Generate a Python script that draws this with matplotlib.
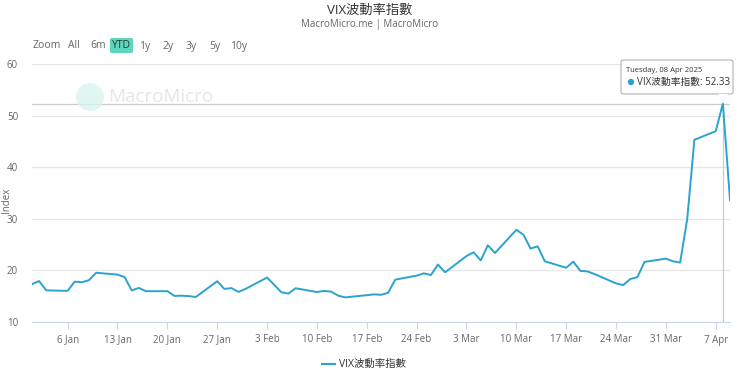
import matplotlib
matplotlib.use("Agg")
import matplotlib.pyplot as plt
import matplotlib.dates as mdates
from matplotlib.patches import FancyBboxPatch, Ellipse, Polygon

plt.rcParams['font.family'] = ['Open Sans', 'Noto Sans CJK TC', 'DejaVu Sans']

# VIX daily values (holidays carried forward)
dates = ["2025-01-01", "2025-01-02", "2025-01-03", "2025-01-06", "2025-01-07", "2025-01-08",
         "2025-01-09", "2025-01-10", "2025-01-13", "2025-01-14", "2025-01-15", "2025-01-16",
         "2025-01-17", "2025-01-20", "2025-01-21", "2025-01-22", "2025-01-23", "2025-01-24",
         "2025-01-27", "2025-01-28", "2025-01-29", "2025-01-30", "2025-01-31", "2025-02-03",
         "2025-02-04", "2025-02-05", "2025-02-06", "2025-02-07", "2025-02-10", "2025-02-11",
         "2025-02-12", "2025-02-13", "2025-02-14", "2025-02-17", "2025-02-18", "2025-02-19",
         "2025-02-20", "2025-02-21", "2025-02-24", "2025-02-25", "2025-02-26", "2025-02-27",
         "2025-02-28", "2025-03-03", "2025-03-04", "2025-03-05", "2025-03-06", "2025-03-07",
         "2025-03-10", "2025-03-11", "2025-03-12", "2025-03-13", "2025-03-14", "2025-03-17",
         "2025-03-18", "2025-03-19", "2025-03-20", "2025-03-21", "2025-03-24", "2025-03-25",
         "2025-03-26", "2025-03-27", "2025-03-28", "2025-03-31", "2025-04-01", "2025-04-02",
         "2025-04-03", "2025-04-04", "2025-04-07", "2025-04-08", "2025-04-09"]
vix = [17.35, 17.93, 16.13, 16.04, 17.82, 17.70,
       18.10, 19.54, 19.19, 18.71, 16.12, 16.60,
       15.97, 15.97, 15.06, 15.10, 15.02, 14.85,
       17.90, 16.41, 16.56, 15.84, 16.43, 18.62,
       17.21, 15.77, 15.50, 16.54, 15.81, 16.02,
       15.89, 15.10, 14.77, 15.20, 15.35, 15.27,
       15.66, 18.21, 18.98, 19.43, 19.10, 21.13,
       19.63, 22.78, 23.51, 21.93, 24.87, 23.37,
       27.86, 26.92, 24.23, 24.66, 21.77, 20.51,
       21.70, 19.90, 19.80, 19.28, 17.48, 17.15,
       18.33, 18.69, 21.65, 22.28, 21.77, 21.51,
       30.02, 45.31, 46.98, 52.33, 33.62]
y_ticks = [10, 20, 30, 40, 50, 60]
buttons = ["Zoom", "All", "6m", "YTD", "1y", "2y", "3y", "5y", "10y"]
series_name = "VIX波動率指數"
hover_date = "2025-04-08"
hover_label = "Tuesday, 08 Apr 2025"

x = mdates.datestr2num(dates)
line_color = "#2aa3cf"
W, H = 740, 375


def fx(px):
    return px / W


def fy(py):
    return 1 - py / H


def dot(cx, cy, r, **kw):
    # round dot in figure pixel units
    return Ellipse((fx(cx), fy(cy)), 2 * r / W, 2 * r / H, transform=fig.transFigure, **kw)


fig = plt.figure(figsize=(7.4, 3.75), dpi=100)
ax = fig.add_axes([fx(32), fy(322), (730 - 32) / W, (322 - 64) / H])

ax.plot(x, vix, color=line_color, lw=1.4, zorder=3, solid_joinstyle='round')
ax.set_xlim(mdates.datestr2num("2025-01-01"), mdates.datestr2num("2025-04-09"))
ax.set_ylim(10, 60)
ax.set_yticks(y_ticks)
ax.grid(axis='y', color='#e6e6e6', lw=0.9)
ax.set_axisbelow(True)
for s in ['top', 'right', 'left']:
    ax.spines[s].set_visible(False)
ax.spines['bottom'].set_color('#ccd6eb')
ax.xaxis.set_major_locator(mdates.WeekdayLocator(byweekday=mdates.MO))
ax.xaxis.set_major_formatter(mdates.DateFormatter('%-d %b'))
ax.tick_params(axis='x', colors='#ccd6eb', length=5, width=0.8, labelcolor='#666666', labelsize=7, pad=4)
ax.tick_params(axis='y', length=0, labelcolor='#666666', labelsize=7, pad=10)
fig.text(fx(6), fy(200), "Index", rotation=90, ha='center', va='center', fontsize=7, color='#666666')

# crosshairs for hovered point
hx = mdates.datestr2num(hover_date)
hy = vix[dates.index(hover_date)]
ax.axhline(hy, color='#cccccc', lw=0.9, zorder=2)
ax.vlines(hx, 10, hy, color='#cccccc', lw=0.9, zorder=2)

# title
fig.text(0.5, fy(10), "VIX波動率指數", ha='center', va='center', fontsize=9.5, color='#333333',
         fontweight='medium')
fig.text(0.5, fy(24), "MacroMicro.me | MacroMicro", ha='center', va='center', fontsize=7, color='#666666')

# range selector
btn_x = [33, 68, 90, 112, 139, 162, 186, 209, 230]
for bx, b in zip(btn_x, buttons):
    if b == "YTD":
        fig.patches.append(FancyBboxPatch((fx(110), fy(53)), 23 / W, 15 / H,
                                          boxstyle="round,pad=0,rounding_size=0.003",
                                          transform=fig.transFigure, fc='#5cd6bd', ec='none'))
    fig.text(fx(bx), fy(46), b, ha='left', va='center',
             fontsize=7.5, color='#333333' if b == "YTD" else '#666666')

# watermark
fig.patches.append(dot(90, 97, 14, fc='#d8f4ee', ec='none', alpha=0.8))
fig.text(fx(108), fy(97), "MacroMicro", ha='left', va='center', fontsize=13.5, color='#e6e6e6')

# tooltip
tx0, ty0, tw, th = 621, 60, 112, 34
fig.patches.append(FancyBboxPatch((fx(tx0), fy(ty0 + th)), tw / W, th / H,
                                  boxstyle="round,pad=0,rounding_size=0.004",
                                  transform=fig.transFigure, fc='white', ec='#999999', lw=0.6, zorder=5))
fig.patches.append(Polygon([[fx(718), fy(ty0 + th)], [fx(728), fy(ty0 + th)], [fx(723), fy(100)]],
                           closed=True, transform=fig.transFigure, fc='white', ec='none', zorder=6))
fig.text(fx(626), fy(70), hover_label, ha='left', va='center', fontsize=5.5, color='#333333', zorder=7)
fig.patches.append(dot(631, 82, 3.2, fc=line_color, ec='none', zorder=7))
fig.text(fx(637), fy(82), f"{series_name}: {hy:.2f}", ha='left', va='center',
         fontsize=7, color='#333333', zorder=7)

# legend
fig.lines.append(plt.Line2D([fx(322), fx(335)], [fy(364)] * 2, transform=fig.transFigure,
                            color=line_color, lw=1.5))
fig.text(fx(339), fy(364), series_name, ha='left', va='center', fontsize=7.5, color='#333333')

fig.savefig("out.png", dpi=100)
